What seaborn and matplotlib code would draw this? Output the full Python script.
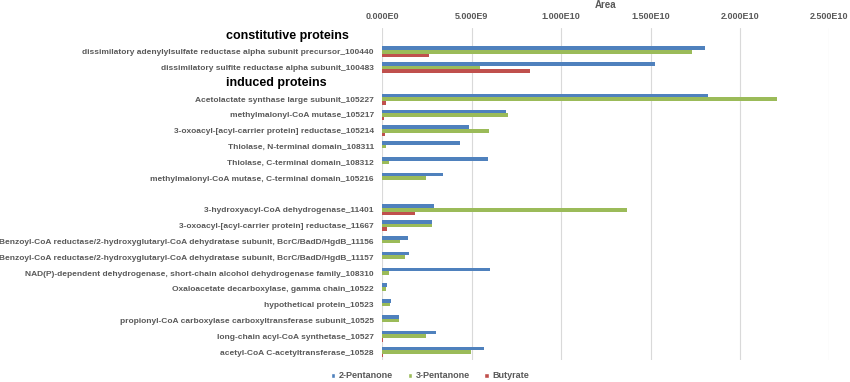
import pandas as pd
import matplotlib.pyplot as plt
import seaborn as sns
from matplotlib.ticker import FuncFormatter
from matplotlib.patches import Patch

# rows from top to bottom; headers and a blank spacer take a slot too
rows = ['constitutive proteins',
        'dissimilatory adenylylsulfate reductase alpha subunit precursor_100440',
        'dissimilatory sulfite reductase alpha subunit_100483',
        'induced proteins',
        'Acetolactate synthase large subunit_105227',
        'methylmalonyl-CoA mutase_105217',
        '3-oxoacyl-[acyl-carrier protein] reductase_105214',
        'Thiolase, N-terminal domain_108311',
        'Thiolase, C-terminal domain_108312',
        'methylmalonyl-CoA mutase, C-terminal domain_105216',
        ' ',
        '3-hydroxyacyl-CoA dehydrogenase_11401',
        '3-oxoacyl-[acyl-carrier protein] reductase_11667',
        'Benzoyl-CoA reductase/2-hydroxyglutaryl-CoA dehydratase subunit, BcrC/BadD/HgdB_11156',
        'Benzoyl-CoA reductase/2-hydroxyglutaryl-CoA dehydratase subunit, BcrC/BadD/HgdB_11157',
        'NAD(P)-dependent dehydrogenase, short-chain alcohol dehydrogenase family_108310',
        'Oxaloacetate decarboxylase, gamma chain_10522',
        'hypothetical protein_10523',
        'propionyl-CoA carboxylase carboxyltransferase subunit_10525',
        'long-chain acyl-CoA synthetase_10527',
        'acetyl-CoA C-acetyltransferase_10528']
headers = ['constitutive proteins', 'induced proteins']
proteins = [r for r in rows if r not in headers and r != ' ']

# values in units of 1e9
pent2 = [18.05, 15.23, 18.2, 6.9, 4.87, 4.33, 5.89, 3.4,
         2.89, 2.78, 1.45, 1.47, 6.0, 0.26, 0.49, 0.92, 3.0, 5.69]
pent3 = [17.34, 5.48, 22.09, 7.03, 5.98, 0.22, 0.37, 2.46,
         13.69, 2.8, 1.0, 1.25, 0.36, 0.2, 0.41, 0.95, 2.46, 4.98]
buty = [2.61, 8.28, 0.22, 0.08, 0.15, 0, 0, 0,
        1.83, 0.26, 0, 0, 0, 0, 0, 0, 0.03, 0.03]
series = ['2-Pentanone', '3-Pentanone', 'Butyrate']
colors = ['#4F81BD', '#9BBB59', '#C0504D']

df = pd.DataFrame({'protein': proteins, '2-Pentanone': pent2,
                   '3-Pentanone': pent3, 'Butyrate': buty})
df = df.melt(id_vars='protein', var_name='series', value_name='area')
df['area'] = df['area'] * 1e9

sns.set_style('white')
plt.rcParams['font.family'] = ['Liberation Sans', 'DejaVu Sans']
grey = '#595959'

fig = plt.figure(figsize=(8.5, 3.82), dpi=100)
ax = fig.add_axes([0.4498, 0.0576, 0.526, 0.869])
sns.barplot(data=df, x='area', y='protein', hue='series', order=rows,
            hue_order=series, palette=colors, orient='h', width=0.68,
            saturation=1, linewidth=0, ax=ax, legend=False)

ax.set_xlim(0, 2.5e10)
ax.set_ylim(20.5, -0.5)

def fmt(v, pos):
    if v == 0:
        return '0.000E0'
    e = len(str(int(round(v)))) - 1
    return '%.3fE%d' % (v / 10 ** e, e)

ax.xaxis.set_major_formatter(FuncFormatter(fmt))
ax.xaxis.tick_top()
ax.xaxis.set_label_position('top')
ax.set_xlabel('Area', fontsize=7, fontweight='bold', color=grey, labelpad=3)
ax.set_ylabel('')
ax.tick_params(axis='x', length=0, pad=5, labelsize=6.5, labelcolor=grey)
ax.tick_params(axis='y', length=0, pad=6, labelsize=6.05, labelcolor=grey)
for lab in ax.get_xticklabels():
    lab.set_fontweight('bold')
ylabels = ['' if r in headers else r for r in rows]
ax.set_yticks(range(len(rows)))
ax.set_yticklabels(ylabels, fontweight='bold')

ax.grid(axis='x', color='#d9d9d9', linewidth=0.8)
ax.set_axisbelow(True)
for s in ax.spines.values():
    s.set_visible(False)

for h in headers:
    ax.text(-0.35, rows.index(h), h, transform=ax.get_yaxis_transform(),
            ha='left', va='center', fontsize=9, fontweight='bold',
            color='black')

handles = [Patch(facecolor=c, label=s) for c, s in zip(colors, series)]
fig.legend(handles=handles, loc='center', bbox_to_anchor=(0.506, 0.016),
           ncol=3, frameon=False, handlelength=0.5, handleheight=0.5,
           handletextpad=0.4, columnspacing=1.6,
           prop={'size': 6.5, 'weight': 'bold'}, labelcolor=grey)

fig.savefig('out.png', dpi=100)
